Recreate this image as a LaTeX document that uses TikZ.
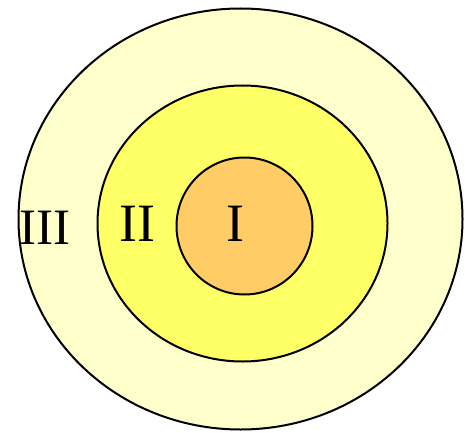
\documentclass[tikz,border=0pt]{standalone}
\usepackage{fontspec}
\setmainfont{Liberation Serif}
\usepackage{xcolor}
\usepackage{tikz}
\usetikzlibrary{shapes.geometric}
\definecolor{paleyellow}{HTML}{FFFFCC}
\definecolor{midyellow}{HTML}{FFFF66}
\definecolor{coreorange}{HTML}{FFCC66}

\begin{document}
\begin{tikzpicture}[x=1pt,y=1pt,
  ring/.style={draw, ellipse, line width=2pt, inner sep=0pt},
  roman/.style={font=\fontsize{54}{54}\selectfont, inner sep=0pt}]
\useasboundingbox (0,0) rectangle (465,432);
\node[ring, fill=paleyellow, minimum width=444pt, minimum height=421pt] (outer) at (240.5,213) {};
\node[ring, fill=midyellow, minimum width=290pt, minimum height=276pt] (middle) at (242.5,208.5) {};
\node[ring, fill=coreorange, minimum width=136pt, minimum height=137pt] (inner) at (244.5,206) {};
\node[roman, font=\fontsize{51}{51}\selectfont] (lblIII) at (45,204) {III};
\node[roman] (lblII) at (137.5,208) {II};
\node[roman] (lblI) at (235,208) {I};
\end{tikzpicture}
\end{document}
